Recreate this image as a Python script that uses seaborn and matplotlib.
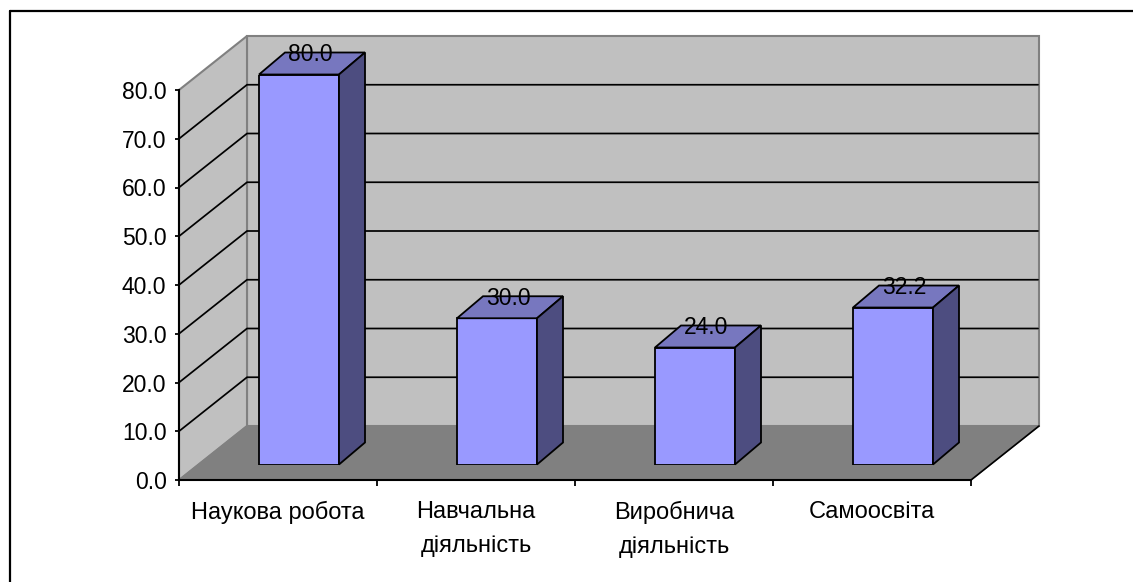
import matplotlib
matplotlib.use("Agg")
import matplotlib.pyplot as plt
import seaborn as sns
from matplotlib.lines import Line2D
from matplotlib.patches import Polygon

# ----------------------------------
# Data
# ----------------------------------
categories = ["Наукова робота", "Навчальна\nдіяльність", "Виробнича\nдіяльність", "Самоосвіта"]
values = [80.0, 30.0, 24.0, 32.2]
y_ticks = [0, 10, 20, 30, 40, 50, 60, 70, 80]

# ----------------------------------
# Setup
# ----------------------------------
W, H = 1133, 582
sns.set_theme(style="white")
plt.rcParams["font.family"] = ["Liberation Sans", "DejaVu Sans"]
FS_NUM = 16.5
FS_CAT = 17

WALL = "#C0C0C0"
FLOOR = "#808080"
EDGE = "#808080"
FRONT = "#9999FF"
TOP = "#7777BF"
SIDE = "#4D4D80"


def axes_px(left, top, right, bottom):
    # pixel box of the reference -> figure fraction
    return [left / W, 1 - bottom / H, (right - left) / W, (bottom - top) / H]


fig = plt.figure(figsize=(W / 100, H / 100), dpi=100, facecolor="white")
ax = fig.add_axes(axes_px(179, 90, 971, 480))
ax_bar = fig.add_axes(axes_px(200, 74.5, 992, 464.5))

# depth of walls and bars, in data units
px_x = 4 / 792
px_y = 80 / 390
DX, DY = 68 * px_x, 54 * px_y
BX, BY = 26 * px_x, 22 * px_y

# ----------------------------------
# Walls and floor
# ----------------------------------
ax.set_xlim(-0.5, 3.5)
ax.set_ylim(0, 80)
ax.patch.set_visible(False)

x0, x1 = -0.5, 3.5
top = y_ticks[-1]
ax.add_patch(Polygon([(x0 + DX, DY), (x1 + DX, DY), (x1 + DX, top + DY), (x0 + DX, top + DY)],
                     fc=WALL, ec=EDGE, lw=1.5, clip_on=False, zorder=1))
ax.add_patch(Polygon([(x0, 0), (x0 + DX, DY), (x0 + DX, top + DY), (x0, top)],
                     fc=WALL, ec=EDGE, lw=1.5, clip_on=False, zorder=1))
ax.add_patch(Polygon([(x0, 0), (x1, 0), (x1 + DX, DY), (x0 + DX, DY)],
                     fc=FLOOR, ec=EDGE, lw=1, clip_on=False, zorder=1.5))

for t in y_ticks[1:-1]:
    ax.add_line(Line2D([x0, x0 + DX, x1 + DX - 0.005], [t, t + DY, t + DY], color="black", lw=1.25,
                       clip_on=False, zorder=2))

# front edge on the right side of the floor
ax.add_line(Line2D([x1, x1 + DX], [0, DY], color="black", lw=1.2, clip_on=False, zorder=2))

# ----------------------------------
# Axes
# ----------------------------------
sns.despine(ax=ax, top=True, right=True)
for side in ["left", "bottom"]:
    ax.spines[side].set_linewidth(1.5)
    ax.spines[side].set_color("black")
    ax.spines[side].set_zorder(5)

ax.set_yticks(y_ticks)
ax.set_yticklabels([f"{t:.1f}" for t in y_ticks], fontsize=FS_NUM, color="black")
ax.set_xticks(range(len(categories)))
ax.set_xticklabels(categories, fontsize=FS_CAT, color="black", linespacing=1.7, va="top")
ax.set_xticks([x0, 0.5, 1.5, 2.5, x1], minor=True)
ax.tick_params(axis="y", which="major", left=True, length=3, width=1.3, color="black", pad=6)
ax.tick_params(axis="x", which="major", bottom=False, length=0, pad=15)
ax.tick_params(axis="x", which="minor", bottom=True, length=4.5, width=1.3, color="black")

# ----------------------------------
# Bars
# ----------------------------------
sns.barplot(x=categories, y=values, ax=ax_bar, width=80 / 198, color=FRONT, saturation=1,
            edgecolor="black", linewidth=1.3, zorder=3)
ax_bar.set_xlim(-0.5, 3.5)
ax_bar.set_ylim(0, 80)
ax_bar.axis("off")

for bar, val in zip(ax_bar.patches, values):
    bx0 = bar.get_x()
    bx1 = bx0 + bar.get_width()
    h = bar.get_height()
    ax_bar.add_patch(Polygon([(bx0, h), (bx1, h), (bx1 + BX, h + BY), (bx0 + BX, h + BY)],
                             fc=TOP, ec="black", lw=1.3, clip_on=False, zorder=3))
    ax_bar.add_patch(Polygon([(bx1, 0), (bx1 + BX, BY), (bx1 + BX, h + BY), (bx1, h)],
                             fc=SIDE, ec="black", lw=1.3, clip_on=False, zorder=3))
    ax_bar.text((bx0 + bx1) / 2 + BX * 0.42, h + BY - 0.4, f"{val:.1f}", ha="center", va="center",
                fontsize=FS_NUM, color="black", clip_on=False, zorder=4)

# ----------------------------------
# Border of the chart (top and left only)
# ----------------------------------
fig.add_artist(Line2D([10.5 / W, 10.5 / W], [0, 1 - 11 / H], color="black", lw=1.6))
fig.add_artist(Line2D([10.5 / W, 1], [1 - 11 / H, 1 - 11 / H], color="black", lw=1.6))

fig.savefig("out.png", dpi=100)
